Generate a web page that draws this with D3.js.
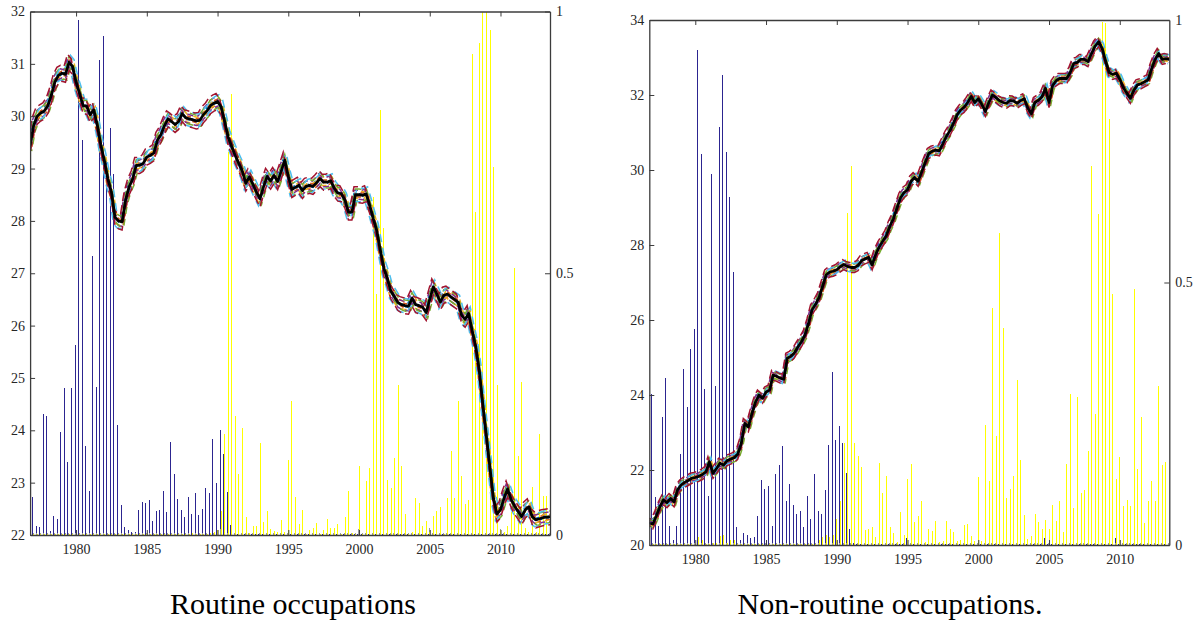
<!DOCTYPE html>
<html>
<head>
<meta charset="utf-8">
<script src="https://cdn.jsdelivr.net/npm/d3@7/dist/d3.min.js"></script>
<style>
    body { margin: 0; background: #fff; }
    svg text { font-family: "Times New Roman", Times, "Liberation Serif", "DejaVu Serif", serif !important; }
</style>
</head>
<body>
<svg id="chart" width="1196" height="623"></svg>
<script>
// quarterly sample: first quarter and step (years)
let startYear = 1976.75;
let step = 0.25;
let xDomain = [1976.75, 2013.5];
let xTicks = [1980, 1985, 1990, 1995, 2000, 2005, 2010];

// ---- Routine occupations ----
let routineTicks = [22, 23, 24, 25, 26, 27, 28, 29, 30, 31, 32];
// employment share (black line)
let routineShare = [
    29.44, 29.82, 30.00, 30.06, 30.10, 30.20, 30.40, 30.65, 30.78, 30.82,
    30.80, 31.03, 30.95, 30.65, 30.43, 30.20, 30.19, 30.03, 30.12, 29.83,
    29.45, 29.15, 28.80, 28.55, 28.07, 28.00, 27.98, 28.40, 28.65, 28.80,
    29.06, 29.06, 29.10, 29.22, 29.25, 29.30, 29.54, 29.65, 29.82, 29.95,
    29.90, 29.84, 29.90, 30.05, 29.97, 29.95, 29.93, 29.91, 29.92, 30.03,
    30.10, 30.20, 30.25, 30.28, 30.18, 29.90, 29.60, 29.42, 29.25, 29.10,
    28.95, 28.72, 28.84, 28.70, 28.55, 28.42, 28.65, 28.85, 28.76, 28.87,
    28.75, 28.95, 29.16, 28.85, 28.60, 28.64, 28.68, 28.58, 28.66, 28.68,
    28.66, 28.73, 28.81, 28.74, 28.74, 28.77, 28.62, 28.53, 28.52, 28.40,
    28.17, 28.17, 28.50, 28.50, 28.49, 28.52, 28.30, 28.05, 27.82, 27.45,
    27.10, 26.90, 26.66, 26.55, 26.44, 26.40, 26.38, 26.37, 26.52, 26.40,
    26.38, 26.35, 26.25, 26.50, 26.74, 26.60, 26.45, 26.58, 26.60, 26.55,
    26.50, 26.45, 26.20, 26.12, 26.23, 25.90, 25.60, 25.15, 24.50, 23.90,
    23.30, 22.70, 22.40, 22.48, 22.70, 22.88, 22.68, 22.55, 22.45, 22.35,
    22.48, 22.54, 22.35, 22.29, 22.31, 22.33, 22.34, 22.35
];
// regime probabilities (bars, right axis)
let routineProb1 = [
    0.073, 0.017, 0.016, 0.231, 0.228, 0.008, 0.036, 0.030, 0.197, 0.281,
    0.140, 0.281, 0.363, 0.984, 0.754, 0.170, 0.084, 0.532, 0.282, 0.908,
    0.954, 0.717, 0.777, 0.690, 0.210, 0.057, 0.015, 0.010, 0.006, 0.006,
    0.048, 0.063, 0.061, 0.067, 0.027, 0.046, 0.048, 0.084, 0.044, 0.177,
    0.117, 0.069, 0.048, 0.034, 0.073, 0.040, 0.080, 0.038, 0.050, 0.090,
    0.080, 0.183, 0.099, 0.200, 0.155, 0.082, 0.019, 0.004, 0.002, 0.002,
    0.002, 0.002, 0.002, 0.002, 0.002, 0.002, 0.002, 0.002, 0.002, 0.002,
    0.002, 0.002, 0.002, 0.002, 0.002, 0.002, 0.002, 0.002, 0.002, 0.002,
    0.002, 0.002, 0.002, 0.002, 0.002, 0.002, 0.002, 0.002, 0.002, 0.002,
    0.002, 0.002, 0.002, 0.002, 0.002, 0.002, 0.002, 0.002, 0.002, 0.002,
    0.002, 0.002, 0.002, 0.002, 0.002, 0.002, 0.002, 0.002, 0.002, 0.002,
    0.002, 0.002, 0.002, 0.002, 0.002, 0.002, 0.002, 0.002, 0.002, 0.002,
    0.002, 0.002, 0.002, 0.002, 0.002, 0.002, 0.002, 0.002, 0.002, 0.002,
    0.002, 0.002, 0.002, 0.002, 0.002, 0.002, 0.002, 0.002, 0.002, 0.002,
    0.002, 0.002, 0.002, 0.002, 0.002, 0.002, 0.002
];
let routineProb2 = [
    0.003, 0.003, 0.003, 0.003, 0.003, 0.003, 0.003, 0.003, 0.003, 0.003,
    0.003, 0.003, 0.003, 0.003, 0.003, 0.003, 0.003, 0.003, 0.003, 0.003,
    0.003, 0.003, 0.003, 0.003, 0.003, 0.003, 0.003, 0.003, 0.003, 0.003,
    0.003, 0.003, 0.003, 0.003, 0.003, 0.003, 0.003, 0.003, 0.003, 0.003,
    0.003, 0.003, 0.003, 0.003, 0.003, 0.003, 0.003, 0.003, 0.003, 0.003,
    0.003, 0.003, 0.010, 0.011, 0.003, 0.003, 0.003, 0.003, 0.003, 0.003,
    0.003, 0.003, 0.003, 0.003, 0.003, 0.003, 0.003, 0.003, 0.003, 0.003,
    0.003, 0.003, 0.003, 0.003, 0.003, 0.003, 0.003, 0.003, 0.003, 0.003,
    0.003, 0.003, 0.003, 0.003, 0.003, 0.003, 0.003, 0.003, 0.003, 0.003,
    0.003, 0.003, 0.011, 0.003, 0.003, 0.003, 0.003, 0.003, 0.003, 0.003,
    0.003, 0.003, 0.003, 0.003, 0.003, 0.003, 0.003, 0.003, 0.003, 0.003,
    0.003, 0.003, 0.013, 0.003, 0.003, 0.003, 0.003, 0.003, 0.003, 0.003,
    0.003, 0.003, 0.003, 0.003, 0.003, 0.003, 0.003, 0.003, 0.003, 0.003,
    0.003, 0.003, 0.011, 0.003, 0.003, 0.003, 0.003, 0.003, 0.003, 0.003,
    0.003, 0.003, 0.003, 0.003, 0.003, 0.003, 0.003
];
let routineProb3 = [
    0.002, 0.002, 0.002, 0.002, 0.002, 0.002, 0.002, 0.002, 0.002, 0.002,
    0.002, 0.002, 0.002, 0.002, 0.002, 0.002, 0.002, 0.002, 0.002, 0.002,
    0.002, 0.002, 0.002, 0.002, 0.002, 0.002, 0.002, 0.002, 0.002, 0.002,
    0.002, 0.002, 0.002, 0.002, 0.002, 0.002, 0.002, 0.002, 0.002, 0.002,
    0.002, 0.002, 0.002, 0.002, 0.002, 0.004, 0.002, 0.002, 0.002, 0.002,
    0.004, 0.006, 0.010, 0.045, 0.193, 0.731, 0.843, 0.228, 0.116, 0.205,
    0.035, 0.004, 0.018, 0.018, 0.176, 0.024, 0.046, 0.012, 0.008, 0.006,
    0.029, 0.006, 0.143, 0.256, 0.073, 0.021, 0.048, 0.002, 0.010, 0.014,
    0.022, 0.002, 0.010, 0.031, 0.014, 0.014, 0.021, 0.002, 0.035, 0.084,
    0.003, 0.002, 0.132, 0.002, 0.103, 0.128, 0.646, 0.461, 0.812, 0.587,
    0.105, 0.090, 0.148, 0.286, 0.132, 0.040, 0.002, 0.006, 0.071, 0.062,
    0.017, 0.027, 0.005, 0.036, 0.045, 0.054, 0.002, 0.071, 0.160, 0.070,
    0.256, 0.112, 0.059, 0.067, 0.918, 0.617, 0.940, 1.000, 0.999, 0.965,
    0.703, 0.286, 0.010, 0.005, 0.018, 0.044, 0.510, 0.150, 0.292, 0.014,
    0.005, 0.092, 0.005, 0.193, 0.075, 0.074, 0.020
];

// ---- Non-routine occupations ----
let nonRoutineTicks = [20, 22, 24, 26, 28, 30, 32, 34];
let nonRoutineShare = [
    20.58, 20.56, 20.78, 21.02, 21.20, 21.13, 21.24, 21.15, 21.47, 21.60,
    21.67, 21.72, 21.78, 21.80, 21.83, 21.88, 21.95, 22.22, 21.91, 22.04,
    22.18, 22.13, 22.25, 22.29, 22.33, 22.42, 22.71, 23.24, 23.15, 23.50,
    23.80, 24.00, 23.91, 24.08, 24.13, 24.53, 24.50, 24.45, 24.42, 24.98,
    25.03, 25.12, 25.28, 25.42, 25.60, 25.90, 26.27, 26.42, 26.60, 26.90,
    27.20, 27.28, 27.30, 27.34, 27.42, 27.48, 27.43, 27.40, 27.40, 27.45,
    27.58, 27.63, 27.67, 27.47, 27.75, 27.95, 28.10, 28.25, 28.50, 28.70,
    28.98, 29.25, 29.40, 29.47, 29.70, 29.80, 29.70, 29.95, 30.20, 30.44,
    30.50, 30.53, 30.51, 30.70, 30.90, 31.05, 31.25, 31.47, 31.60, 31.67,
    31.80, 31.96, 31.80, 31.90, 31.75, 31.56, 31.80, 32.00, 31.93, 31.85,
    31.80, 31.78, 31.85, 31.84, 31.78, 31.85, 31.90, 31.65, 31.50, 31.80,
    31.86, 31.95, 32.18, 31.80, 32.25, 32.38, 32.44, 32.44, 32.44, 32.60,
    32.84, 32.87, 32.95, 32.95, 32.89, 33.10, 33.30, 33.42, 33.25, 32.90,
    32.60, 32.55, 32.58, 32.42, 32.20, 32.05, 31.91, 32.13, 32.27, 32.30,
    32.35, 32.40, 32.70, 32.95, 33.11, 32.95, 32.97, 32.95
];
let nonRoutineProb1 = [
    0.287, 0.092, 0.036, 0.243, 0.319, 0.036, 0.010, 0.036, 0.173, 0.335,
    0.262, 0.373, 0.411, 0.943, 0.745, 0.298, 0.093, 0.707, 0.303, 0.796,
    0.895, 0.749, 0.662, 0.520, 0.035, 0.010, 0.023, 0.020, 0.014, 0.016,
    0.055, 0.124, 0.107, 0.112, 0.036, 0.135, 0.152, 0.189, 0.084, 0.116,
    0.076, 0.059, 0.065, 0.034, 0.093, 0.049, 0.135, 0.065, 0.060, 0.105,
    0.190, 0.330, 0.200, 0.227, 0.195, 0.138, 0.030, 0.004, 0.002, 0.002,
    0.002, 0.002, 0.002, 0.002, 0.002, 0.002, 0.002, 0.002, 0.002, 0.002,
    0.002, 0.002, 0.013, 0.002, 0.002, 0.002, 0.002, 0.002, 0.002, 0.002,
    0.002, 0.002, 0.002, 0.002, 0.002, 0.002, 0.002, 0.002, 0.002, 0.002,
    0.002, 0.002, 0.002, 0.002, 0.002, 0.002, 0.002, 0.002, 0.002, 0.002,
    0.002, 0.002, 0.002, 0.002, 0.002, 0.002, 0.002, 0.002, 0.002, 0.002,
    0.002, 0.013, 0.002, 0.002, 0.002, 0.002, 0.002, 0.002, 0.002, 0.002,
    0.002, 0.002, 0.002, 0.002, 0.002, 0.002, 0.002, 0.002, 0.002, 0.002,
    0.002, 0.013, 0.002, 0.002, 0.002, 0.002, 0.002, 0.002, 0.002, 0.002,
    0.002, 0.002, 0.002, 0.002, 0.002, 0.002, 0.002
];
let nonRoutineProb2 = [
    0.003, 0.003, 0.003, 0.003, 0.003, 0.003, 0.003, 0.003, 0.003, 0.003,
    0.003, 0.003, 0.003, 0.003, 0.003, 0.003, 0.003, 0.003, 0.003, 0.003,
    0.003, 0.003, 0.003, 0.003, 0.003, 0.003, 0.003, 0.003, 0.003, 0.003,
    0.003, 0.003, 0.003, 0.003, 0.003, 0.003, 0.003, 0.003, 0.003, 0.003,
    0.003, 0.003, 0.003, 0.003, 0.003, 0.003, 0.003, 0.003, 0.003, 0.003,
    0.003, 0.003, 0.003, 0.003, 0.003, 0.003, 0.003, 0.003, 0.003, 0.003,
    0.003, 0.003, 0.003, 0.003, 0.003, 0.003, 0.003, 0.003, 0.003, 0.003,
    0.003, 0.003, 0.003, 0.003, 0.003, 0.003, 0.003, 0.003, 0.003, 0.003,
    0.003, 0.003, 0.003, 0.003, 0.003, 0.003, 0.003, 0.003, 0.003, 0.003,
    0.003, 0.003, 0.003, 0.003, 0.003, 0.003, 0.003, 0.003, 0.003, 0.003,
    0.003, 0.003, 0.003, 0.003, 0.003, 0.003, 0.003, 0.003, 0.003, 0.003,
    0.003, 0.003, 0.003, 0.003, 0.003, 0.003, 0.003, 0.003, 0.003, 0.003,
    0.003, 0.003, 0.003, 0.003, 0.003, 0.003, 0.003, 0.003, 0.003, 0.003,
    0.003, 0.003, 0.003, 0.003, 0.003, 0.003, 0.003, 0.003, 0.003, 0.003,
    0.003, 0.003, 0.003, 0.003, 0.003, 0.003, 0.003
];
let nonRoutineProb3 = [
    0.002, 0.002, 0.002, 0.002, 0.002, 0.002, 0.002, 0.002, 0.002, 0.002,
    0.002, 0.002, 0.002, 0.015, 0.010, 0.002, 0.002, 0.004, 0.004, 0.017,
    0.019, 0.004, 0.010, 0.010, 0.002, 0.002, 0.002, 0.002, 0.002, 0.002,
    0.002, 0.002, 0.002, 0.002, 0.002, 0.002, 0.002, 0.002, 0.002, 0.002,
    0.002, 0.002, 0.002, 0.002, 0.002, 0.002, 0.002, 0.010, 0.015, 0.020,
    0.015, 0.020, 0.050, 0.084, 0.195, 0.632, 0.722, 0.195, 0.170, 0.149,
    0.029, 0.030, 0.035, 0.015, 0.156, 0.100, 0.132, 0.035, 0.022, 0.005,
    0.063, 0.019, 0.126, 0.154, 0.044, 0.055, 0.084, 0.005, 0.030, 0.027,
    0.046, 0.006, 0.008, 0.046, 0.030, 0.025, 0.008, 0.010, 0.038, 0.040,
    0.017, 0.008, 0.130, 0.008, 0.229, 0.122, 0.451, 0.208, 0.594, 0.414,
    0.089, 0.106, 0.131, 0.314, 0.162, 0.057, 0.011, 0.017, 0.059, 0.044,
    0.030, 0.048, 0.030, 0.076, 0.046, 0.084, 0.025, 0.154, 0.288, 0.070,
    0.281, 0.100, 0.105, 0.179, 0.722, 0.250, 0.630, 0.996, 0.995, 0.811,
    0.479, 0.126, 0.167, 0.074, 0.086, 0.074, 0.487, 0.144, 0.244, 0.041,
    0.083, 0.121, 0.083, 0.303, 0.152, 0.159, 0.020
];
let probTicks = [0, 0.5, 1];

// MATLAB-like colours for the ensemble of draws around the median
let drawColors = ['#0072BD', '#D95319', '#EDB120', '#7E2F8E', '#77AC30', '#4DBEEE', '#A2142F'];
let barColors = ['#2c2590', '#9a9a9a', '#ffff00'];
let axisColor = '#3c3c3c';
let textColor = '#262626';
let serif = '"Times New Roman", Times, "Liberation Serif", serif';

let svg = d3.select('#chart');

function drawPanel(cfg) {
    let g = svg.append('g');
    let x = d3.scaleLinear().domain(xDomain).range([cfg.left, cfg.right]);
    let y = d3.scaleLinear().domain(cfg.yDomain).range([cfg.bottom, cfg.top]);
    let yP = d3.scaleLinear().domain([0, 1]).range([cfg.bottom, cfg.top]);
    let dateOf = function (i) { return startYear + i * step; };

    //clip to plot box
    let clipId = 'clip' + cfg.id;
    svg.append('clipPath').attr('id', clipId)
        .append('rect')
        .attr('x', cfg.left).attr('y', cfg.top)
        .attr('width', cfg.right - cfg.left).attr('height', cfg.bottom - cfg.top);
    let plot = g.append('g').attr('clip-path', 'url(#' + clipId + ')');

    //probability bars, three regimes next to each other (snapped to whole pixels)
    let probs = [cfg.p1, cfg.p2, cfg.p3];
    let offsets = [2.0, 2.6, 3.2];
    probs.forEach(function (arr, s) {
        plot.append('g').selectAll('rect')
            .data(arr)
            .enter()
            .append('rect')
            .attr('x', function (d, i) { return Math.round(x(dateOf(i)) + offsets[s]); })
            .attr('y', function (d) { return yP(d); })
            .attr('width', 1)
            .attr('height', function (d) { return cfg.bottom - yP(d); })
            .attr('fill', barColors[s])
            .attr('shape-rendering', 'crispEdges');
    });

    //ensemble draws (coloured) then median (black)
    let line = d3.line()
        .x(function (d, i) { return x(dateOf(i)); })
        .y(function (d) { return y(d); });
    drawColors.forEach(function (c, j) {
        [-1, 1].forEach(function (side) {
            let dx = ((j + (side > 0 ? 1 : 0)) % 3 - 1) * 1.5;
            let dy = side * cfg.spread * (j + 1) / 7;
            plot.append('path')
                .datum(cfg.share)
                .attr('d', line)
                .attr('fill', 'none')
                .attr('stroke', c)
                .attr('stroke-width', 1.5)
                .attr('stroke-dasharray', (3 + j) + ' ' + (4 + (j % 3)))
                .attr('stroke-dashoffset', j * 3 + (side > 0 ? 5 : 0))
                .attr('transform', 'translate(' + dx + ',' + dy + ')');
        });
    });
    plot.append('path')
        .datum(cfg.share)
        .attr('d', line)
        .attr('fill', 'none')
        .attr('stroke', '#000')
        .attr('stroke-width', 2.8)
        .attr('stroke-linejoin', 'round');

    //axes (ticks point inward like matlab)
    let styleAxis = function (sel) {
        sel.attr('font-family', serif);
        sel.selectAll('path').attr('stroke', axisColor).attr('stroke-width', 1.3);
        sel.selectAll('line').attr('stroke', axisColor).attr('stroke-width', 1);
        sel.selectAll('text').attr('fill', textColor).attr('font-size', 14)
            .style('font-family', serif);
    };
    g.append('g')
        .attr('transform', 'translate(0,' + cfg.top + ')')
        .call(d3.axisBottom(x).tickValues(xTicks).tickSizeInner(5).tickSizeOuter(0).tickFormat(''))
        .call(styleAxis);
    g.append('g')
        .attr('transform', 'translate(0,' + cfg.bottom + ')')
        .call(d3.axisBottom(x).tickValues(xTicks).tickSizeInner(-5).tickSizeOuter(0).tickPadding(9).tickFormat(d3.format('d')))
        .call(styleAxis);
    g.append('g')
        .attr('transform', 'translate(' + cfg.left + ',0)')
        .call(d3.axisLeft(y).tickValues(cfg.yTicks).tickSizeInner(-5).tickSizeOuter(0).tickPadding(5).tickFormat(d3.format('d')))
        .call(styleAxis);
    g.append('g')
        .attr('transform', 'translate(' + cfg.right + ',0)')
        .call(d3.axisRight(yP).tickValues(probTicks).tickSizeInner(-5).tickSizeOuter(0).tickPadding(6).tickFormat(function (d) { return String(d); }))
        .call(styleAxis);

    //caption under the panel
    svg.append('text')
        .attr('x', cfg.titleX)
        .attr('y', 614)
        .attr('text-anchor', 'middle')
        .attr('font-size', 30)
        .style('font-family', serif)
        .attr('fill', '#000')
        .text(cfg.title);
}

drawPanel({
    id: 'routine',
    left: 30.1, right: 550, top: 11.5, bottom: 535,
    yDomain: [22, 32], yTicks: routineTicks,
    share: routineShare,
    p1: routineProb1, p2: routineProb2, p3: routineProb3,
    spread: 8,
    title: 'Routine occupations', titleX: 293
});
drawPanel({
    id: 'nonroutine',
    left: 649.3, right: 1169.3, top: 20, bottom: 545,
    yDomain: [20, 34], yTicks: nonRoutineTicks,
    share: nonRoutineShare,
    p1: nonRoutineProb1, p2: nonRoutineProb2, p3: nonRoutineProb3,
    spread: 5,
    title: 'Non-routine occupations.', titleX: 890
});
</script>
</body>
</html>
